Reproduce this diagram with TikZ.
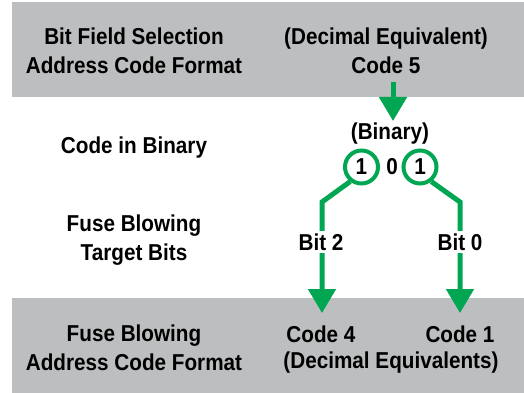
\documentclass[tikz,border=0pt]{standalone}
\usepackage{fontspec}
\setmainfont{Liberation Sans}[FakeStretch=0.9]
\usetikzlibrary{arrows.meta}
\definecolor{bandgray}{RGB}{188,190,192}
\definecolor{fgreen}{RGB}{0,166,81}
\tikzset{
  lbl/.style={font=\fontsize{23}{29}\selectfont\bfseries, align=center, inner sep=1pt, text=black},
  band/.style={fill=bandgray, draw=none},
  gline/.style={draw=fgreen, line width=5pt},
  garrow/.style={gline, -{Triangle[width=27pt,length=24pt]}},
  bitcirc/.style={circle, draw=fgreen, line width=4pt, minimum size=33pt, inner sep=0pt, font=\fontsize{23}{29}\selectfont\bfseries},
  bitlbl/.style={lbl, fill=white, inner sep=3pt}
}
\begin{document}
\begin{tikzpicture}[x=1pt,y=-1pt]
\useasboundingbox (0,0) rectangle (524,393);
% bands
\path[band] (12,2) rectangle (524,97);
\path[band] (12,298) rectangle (524,393);
% top band texts
\node[lbl] (topL) at (134,51) {Bit Field Selection\\Address Code Format};
\node[lbl] (topR) at (386,51) {(Decimal Equivalent)\\Code 5};
% middle
\node[lbl] (codebin) at (134,148) {Code in Binary};
\node[lbl] (binary) at (390,134) {(Binary)};
\node[bitcirc] (c1) at (361.5,167) {1};
\node[lbl] (zero) at (392,167) {0};
\node[bitcirc] (c2) at (420,167) {1};
\node[lbl] (target) at (134,240) {Fuse Blowing\\Target Bits};
% bottom band texts
\node[lbl] (botL) at (134,348) {Fuse Blowing\\Address Code Format};
\node[lbl] (code4) at (321,334) {Code 4};
\node[lbl] (code1) at (460,334) {Code 1};
\node[lbl] (deceq) at (391,363) {(Decimal Equivalents)};
% connectors
\coordinate (a0) at (393,82);
\coordinate (a1) at (393,121);
\draw[garrow] (a0) -- (a1);
\coordinate (l1) at (322,202);
\coordinate (l2) at (322,313);
\coordinate (r1) at (460,202);
\coordinate (r2) at (460,313);
\draw[garrow, line join=miter] (c1.-128) -- (l1) -- (l2);
\draw[garrow, line join=miter] (c2.-52) -- (r1) -- (r2);
\node[bitlbl] (bit2) at (321,242) {Bit 2};
\node[bitlbl] (bit0) at (460,242) {Bit 0};
\end{tikzpicture}
\end{document}
